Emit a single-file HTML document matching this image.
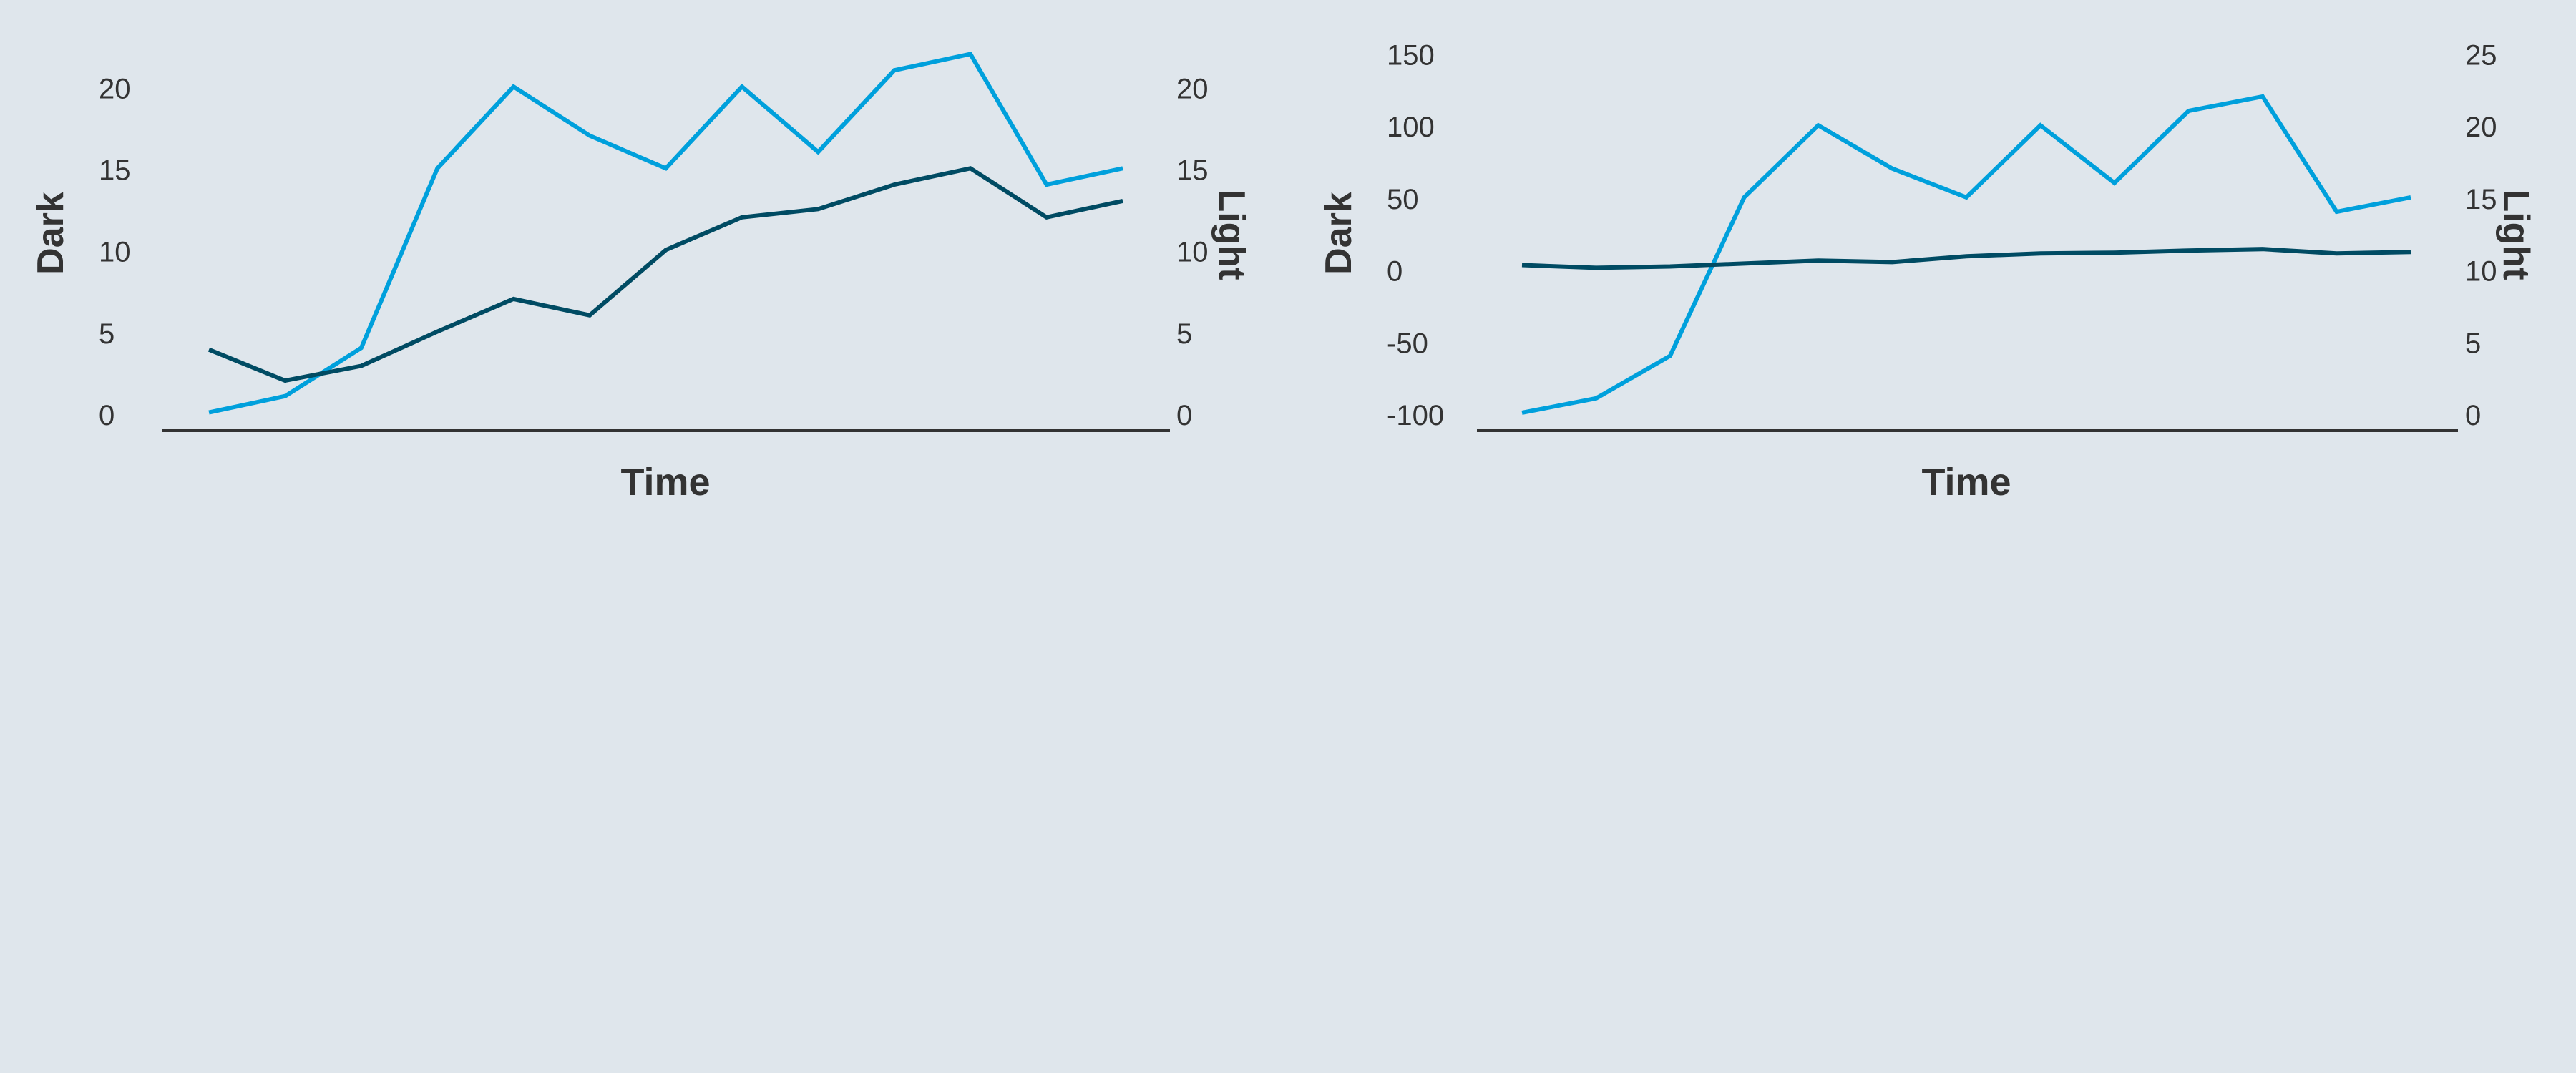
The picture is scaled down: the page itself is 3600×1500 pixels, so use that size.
<!DOCTYPE html>
<html><head><meta charset="utf-8"><style>
html,body{margin:0;padding:0;background:#dfe6ec;}
svg{display:block;font-family:"Liberation Sans",Arial,sans-serif;}
</style></head><body>
<svg id="chart" width="3600" height="1500" viewBox="0 0 3600 1500">
<rect width="3600" height="1500" fill="#dfe6ec"/>
</svg>
<script>
const darkValues = [4, 2.1, 3, 5.1, 7.1, 6.1, 10.1, 12.1, 12.6, 14.1, 15.1, 12.1, 13.1];
const lightValues = [0.15, 1.15, 4.1, 15.1, 20.1, 17.1, 15.1, 20.1, 16.1, 21.1, 22.1, 14.1, 15.1];
const leftDarkTicks = [0, 5, 10, 15, 20];
const leftLightTicks = [0, 5, 10, 15, 20];
const rightDarkTicks = [-100, -50, 0, 50, 100, 150];
const rightLightTicks = [0, 5, 10, 15, 20, 25];

const svg = document.getElementById('chart');
const NS = 'http://www.w3.org/2000/svg';
function mk(tag, attrs){const e=document.createElementNS(NS,tag);for(const k in attrs)e.setAttribute(k,attrs[k]);svg.appendChild(e);return e;}

function panel(cfg, prefix){
  const n = darkValues.length;
  const xs = i => cfg.x0 + (cfg.x1 - cfg.x0) * i / (n - 1);
  const yD = v => cfg.yBot - (v - cfg.dMin) / (cfg.dMax - cfg.dMin) * (cfg.yBot - cfg.yTop);
  const yL = v => cfg.yBot - (v - cfg.lMin) / (cfg.lMax - cfg.lMin) * (cfg.yBot - cfg.yTop);
  const axis = mk('line',{x1:cfg.ax0,x2:cfg.ax1,y1:602,y2:602,stroke:'#333',"stroke-width":4});
  
  
  cfg.dTicks.forEach(t=>{
    const e=mk('text',{x:cfg.ltx,y:yD(t)+14,"font-size":40,fill:'#333'});
    e.textContent=t;
    
    
  });
  cfg.lTicks.forEach(t=>{
    const e=mk('text',{x:cfg.rtx,y:yL(t)+14,"font-size":40,fill:'#333'});
    e.textContent=t;
    
    
  });
  const lp = lightValues.map((v,i)=>xs(i)+','+yL(v)).join(' ');
  const l = mk('polyline',{points:lp,fill:'none',stroke:'#00a0dc',"stroke-width":6,"stroke-linejoin":'miter'});
  
  
  const dp = darkValues.map((v,i)=>xs(i)+','+yD(v)).join(' ');
  const d = mk('polyline',{points:dp,fill:'none',stroke:'#004b63',"stroke-width":6,"stroke-linejoin":'miter'});
  
  
  const t1=mk('text',{x:0,y:0,"font-size":52,"font-weight":'bold',fill:'#333',"text-anchor":'middle',transform:`translate(${cfg.dTitleX},326) rotate(-90)`});
  t1.textContent='Dark';
  
  
  const t2=mk('text',{x:0,y:0,"font-size":52,"font-weight":'bold',fill:'#333',"text-anchor":'middle',transform:`translate(${cfg.lTitleX},328) rotate(90)`});
  t2.textContent='Light';
  
  
  const t3=mk('text',{x:cfg.timeX,y:692,"font-size":54,"font-weight":'bold',fill:'#333',"text-anchor":'middle'});
  t3.textContent='Time';
  
  
}

panel({x0:292,x1:1569,ax0:227,ax1:1635,yBot:580,yTop:123.4,dMin:0,dMax:20,lMin:0,lMax:20,
  dTicks:leftDarkTicks,lTicks:leftLightTicks,ltx:138,rtx:1644,dTitleX:88,lTitleX:1704,timeX:930},'left');
panel({x0:2127,x1:3369,ax0:2064,ax1:3435,yBot:580,yTop:76.5,dMin:-100,dMax:150,lMin:0,lMax:25,
  dTicks:rightDarkTicks,lTicks:rightLightTicks,ltx:1938,rtx:3445,dTitleX:1888,lTitleX:3499,timeX:2748},'right');
</script>
</body></html>
